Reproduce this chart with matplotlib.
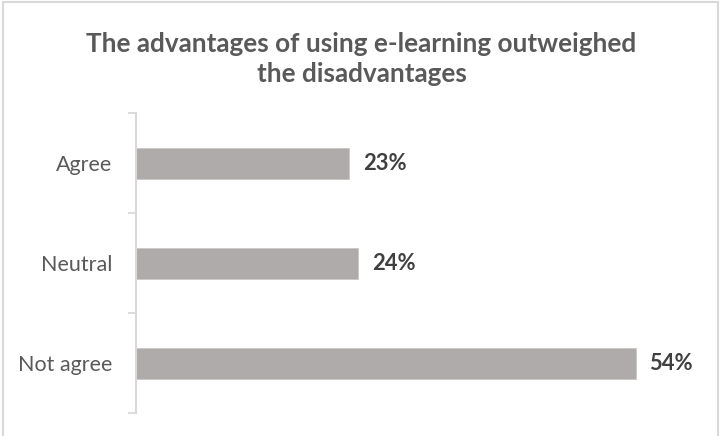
import matplotlib
matplotlib.use("Agg")
import matplotlib.pyplot as plt
from matplotlib.patches import Rectangle
from matplotlib.ticker import FixedLocator

categories = ["Agree", "Neutral", "Not agree"]
values = [23, 24, 54]
value_labels = ["23%", "24%", "54%"]
title = "The advantages of using e-learning outweighed\nthe disadvantages"

plt.rcParams["font.family"] = ["Lato", "DejaVu Sans"]

W, H = 721, 436
fig = plt.figure(figsize=(W / 100, H / 100), dpi=100)
fig.patch.set_facecolor("white")

# light frame around the chart area
fig.patches.append(Rectangle((3 / W, -0.05), (718 - 3) / W, 1 - 2 / H + 0.05,
                             transform=fig.transFigure, fill=False,
                             edgecolor="#d9d9d9", linewidth=1.5))

left, right = 136 / W, 700 / W
bottom, top = 1 - 413 / H, 1 - 113 / H
ax = fig.add_axes([left, bottom, right - left, top - bottom])

bar_color = "#afabaa"
ypos = list(range(len(categories)))
ax.barh(ypos, values, height=0.31, color=bar_color, edgecolor="#c9c6c5", linewidth=0.6)

ax.set_ylim(len(categories) - 0.5, -0.5)
ax.set_xlim(0, (700 - 136) / 9.25)

ax.set_yticks(ypos)
ax.set_yticklabels(categories, fontsize=15.5, color="#595959")
ax.tick_params(axis="y", which="major", length=0, pad=17)
ax.yaxis.set_minor_locator(FixedLocator([-0.5, 0.5, 1.5, 2.5]))
ax.tick_params(axis="y", which="minor", length=6, width=1.3, color="#d9d9d9")
ax.set_xticks([])

for s in ["top", "right", "bottom"]:
    ax.spines[s].set_visible(False)
ax.spines["left"].set_color("#d9d9d9")
ax.spines["left"].set_linewidth(1.5)

for y, v, lab in zip(ypos, values, value_labels):
    ax.annotate(lab, (v, y), xytext=(10, 0), textcoords="offset points",
                ha="left", va="center", fontsize=15.8, fontweight="bold",
                color="#404040")

fig.text(0.5 * (83 + 640) / W, 1 - 59 / H, title, ha="center", va="center",
         fontsize=18.8, fontweight="bold", color="#595959", linespacing=1.25)

fig.savefig("out.png", dpi=100, facecolor="white")
